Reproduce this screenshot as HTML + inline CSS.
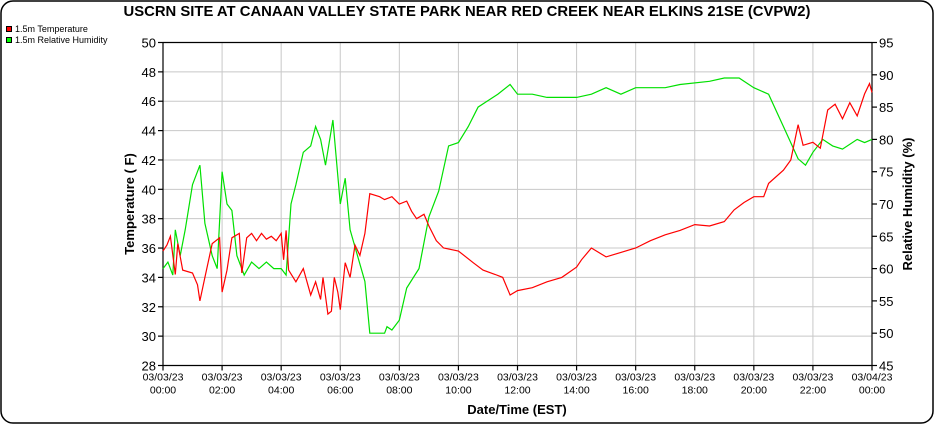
<!DOCTYPE html>
<html><head><meta charset="utf-8"><style>
html,body{margin:0;padding:0;background:#fff}
svg{display:block;font-family:"Liberation Sans",Arial,sans-serif}
</style></head><body>
<svg id="s" width="935" height="425" viewBox="0 0 935 425" xmlns="http://www.w3.org/2000/svg">
<rect x="1" y="1" width="932" height="422" rx="12" fill="#fff" stroke="#000" stroke-width="1.5"/>
<text x="467" y="16" text-anchor="middle" font-weight="bold" font-size="15" textLength="687" lengthAdjust="spacingAndGlyphs">USCRN SITE AT CANAAN VALLEY STATE PARK NEAR RED CREEK NEAR ELKINS 21SE (CVPW2)</text>
<rect x="6.5" y="26.5" width="5" height="5" fill="#f00" stroke="#000" stroke-width="1"/>
<text x="15" y="32" font-size="9">1.5m Temperature</text>
<rect x="6.5" y="37.5" width="5" height="5" fill="#0f0" stroke="#000" stroke-width="1"/>
<text x="15" y="43" font-size="9">1.5m Relative Humidity</text>
<g id="grid" stroke="#c8c8c8" stroke-width="1"></g>
<g id="axes" stroke="#000" stroke-width="1.2" fill="none"></g>
<g id="lbl" font-size="13"></g>
<g id="xl" font-size="10.5" text-anchor="middle"></g>
<text transform="translate(134,204) rotate(-90)" text-anchor="middle" font-weight="bold" font-size="13">Temperature ( F)</text>
<text transform="translate(912,204) rotate(-90)" text-anchor="middle" font-weight="bold" font-size="13">Relative Humidity (%)</text>
<text x="517" y="414" text-anchor="middle" font-weight="bold" font-size="13">Date/Time (EST)</text>
<polyline id="h" fill="none" stroke="#00e000" stroke-width="1.2"/>
<polyline id="t" fill="none" stroke="#f00" stroke-width="1.2"/>
</svg>
<script>
var L=163,R=872,T=42.5,B=365.5,NS="http://www.w3.org/2000/svg";
function el(p,n,a,txt){var e=document.createElementNS(NS,n);for(var k in a)e.setAttribute(k,a[k]);if(txt!=null)e.textContent=txt;document.getElementById(p).appendChild(e);}
function X(h){return L+(R-L)*h/24}
function YT(v){return B-(v-28)*(B-T)/22}
function YH(v){return B-(v-45)*(B-T)/50}
for(var v=28;v<=50;v+=2){var y=YT(v);if(v>28)el("grid","line",{x1:L,x2:R,y1:y,y2:y});el("axes","line",{x1:L-5,x2:L,y1:y,y2:y});el("lbl","text",{x:L-7,y:y+5,"text-anchor":"end"},v);}
for(var v=45;v<=95;v+=5){var y=YH(v);el("axes","line",{x1:R,x2:R+5,y1:y,y2:y});el("lbl","text",{x:R+7,y:y+5},v);}
for(var h=0;h<=24;h+=2){var x=X(h);if(h>0&&h<24)el("grid","line",{x1:x,x2:x,y1:T,y2:B});el("axes","line",{x1:x,x2:x,y1:B,y2:B+5});
var d=h==24?"03/04/23":"03/03/23";var hh=h==24?"00:00":(h<10?"0":"")+h+":00";el("xl","text",{x:x,y:B+15},d);el("xl","text",{x:x,y:B+28},hh);}
el("axes","line",{x1:L,x2:R,y1:T,y2:T});
el("axes","line",{x1:L,x2:L,y1:T,y2:B});el("axes","line",{x1:R,x2:R,y1:T,y2:B});el("axes","line",{x1:L,x2:R,y1:B,y2:B});
function hm(s){var p=s.split(":");return +p[0]+(+p[1])/60}
var t="0:00 35.8,0:08 36.2,0:15 36.8,0:25 34.2,0:30 36.3,0:40 34.5,1:00 34.3,1:10 33.5,1:15 32.4,1:25 34,1:40 36.3,1:55 36.7,2:00 33,2:10 34.5,2:20 36.7,2:35 37,2:40 34.3,2:50 36.7,3:00 37,3:10 36.5,3:20 37,3:30 36.6,3:40 36.8,3:50 36.5,4:00 37,4:05 35.2,4:10 37.2,4:15 34.5,4:30 33.7,4:45 34.6,5:00 32.8,5:10 33.7,5:20 32.5,5:25 34,5:35 31.5,5:42 31.7,5:48 34,5:55 33,6:00 31.8,6:10 35,6:20 34,6:30 36.2,6:40 35.5,6:50 37,7:00 39.7,7:20 39.5,7:30 39.3,7:45 39.5,8:00 39,8:15 39.2,8:25 38.5,8:35 38,8:50 38.3,9:00 37.5,9:15 36.5,9:30 36,10:00 35.8,10:30 35,10:50 34.5,11:15 34.2,11:30 34,11:45 32.8,12:00 33.1,12:30 33.3,13:00 33.7,13:30 34,14:00 34.7,14:10 35.2,14:30 36,15:00 35.4,15:30 35.7,16:00 36,16:30 36.5,17:00 36.9,17:30 37.2,18:00 37.6,18:30 37.5,19:00 37.8,19:20 38.6,19:40 39.1,20:00 39.5,20:20 39.5,20:30 40.4,21:00 41.3,21:15 42,21:30 44.4,21:40 43,22:00 43.2,22:15 42.8,22:30 45.4,22:45 45.8,23:00 44.8,23:15 45.9,23:30 45,23:45 46.5,23:55 47.2,24:00 46.6";
var hu="0:00 60,0:10 61,0:20 59,0:25 66,0:35 62,0:45 66,1:00 73,1:15 76,1:25 67,1:40 62,1:50 60,2:00 75,2:10 70,2:20 69,2:30 62,2:45 59,3:00 61,3:15 60,3:30 61,3:45 60,4:00 60,4:10 59,4:20 70,4:30 73,4:45 78,5:00 79,5:10 82,5:20 80,5:30 76,5:45 83,6:00 70,6:10 74,6:20 66,6:35 62,6:50 58,7:00 50,7:30 50,7:35 51,7:45 50.5,8:00 52,8:15 57,8:40 60,9:00 68,9:20 72,9:40 79,10:00 79.5,10:20 82,10:40 85,11:00 86,11:20 87,11:45 88.5,12:00 87,12:30 87,13:00 86.5,14:00 86.5,14:30 87,15:00 88,15:30 87,16:00 88,17:00 88,17:30 88.5,18:30 89,19:00 89.5,19:30 89.5,20:00 88,20:30 87,21:00 82,21:30 77,21:45 76,22:00 78,22:20 80,22:40 79,23:00 78.5,23:30 80,23:45 79.5,24:00 80";
function pts(s,f){return s.split(",").map(function(p){var a=p.split(" ");return X(hm(a[0])).toFixed(1)+","+f(+a[1]).toFixed(1)}).join(" ")}
document.getElementById("t").setAttribute("points",pts(t,YT));
document.getElementById("h").setAttribute("points",pts(hu,YH));
</script>
</body></html>
